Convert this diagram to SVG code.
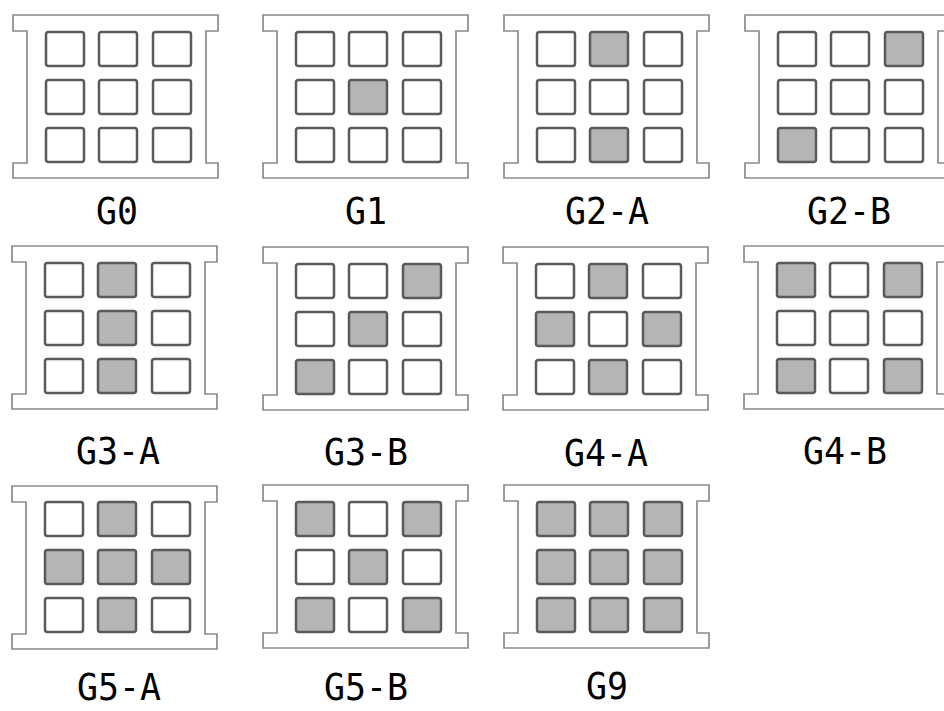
<svg xmlns="http://www.w3.org/2000/svg" xmlns:xlink="http://www.w3.org/1999/xlink" width="944" height="711" viewBox="0 0 944 711">
  <style>
    .frame { fill: #ffffff; stroke: #8a8a8a; stroke-width: 1.7; stroke-linejoin: miter; }
    .e { fill: #ffffff; stroke: #5a5a5a; stroke-width: 2.5; }
    .f { fill: #b5b5b5; stroke: #5a5a5a; stroke-width: 2.5; }
    .lbl { font-family: "DejaVu Sans Mono", "Liberation Mono", monospace; font-size: 38px; fill: #000000; text-anchor: middle; }
  </style>
  <defs>
    <path id="frm" class="frame" d="M0,0 H205 V16 H193 V148 H205 V163 H0 V148 H14 V16 H0 Z"/>
  </defs>
  <rect x="0" y="0" width="944" height="711" fill="#ffffff"/>

  <g id="G0" transform="translate(13,15)">
    <use xlink:href="#frm"/>
    <rect class="e" x="33" y="17" width="38" height="34" rx="2.5"/>
    <rect class="e" x="86" y="17" width="38" height="34" rx="2.5"/>
    <rect class="e" x="140" y="17" width="38" height="34" rx="2.5"/>
    <rect class="e" x="33" y="65" width="38" height="34" rx="2.5"/>
    <rect class="e" x="86" y="65" width="38" height="34" rx="2.5"/>
    <rect class="e" x="140" y="65" width="38" height="34" rx="2.5"/>
    <rect class="e" x="33" y="113" width="38" height="34" rx="2.5"/>
    <rect class="e" x="86" y="113" width="38" height="34" rx="2.5"/>
    <rect class="e" x="140" y="113" width="38" height="34" rx="2.5"/>
    <text class="lbl" x="104" y="209" textLength="42" lengthAdjust="spacingAndGlyphs">G0</text>
  </g>

  <g id="G1" transform="translate(263,15)">
    <use xlink:href="#frm"/>
    <rect class="e" x="33" y="17" width="38" height="34" rx="2.5"/>
    <rect class="e" x="86" y="17" width="38" height="34" rx="2.5"/>
    <rect class="e" x="140" y="17" width="38" height="34" rx="2.5"/>
    <rect class="e" x="33" y="65" width="38" height="34" rx="2.5"/>
    <rect class="f" x="86" y="65" width="38" height="34" rx="2.5"/>
    <rect class="e" x="140" y="65" width="38" height="34" rx="2.5"/>
    <rect class="e" x="33" y="113" width="38" height="34" rx="2.5"/>
    <rect class="e" x="86" y="113" width="38" height="34" rx="2.5"/>
    <rect class="e" x="140" y="113" width="38" height="34" rx="2.5"/>
    <text class="lbl" x="103" y="209" textLength="42" lengthAdjust="spacingAndGlyphs">G1</text>
  </g>

  <g id="G2-A" transform="translate(504,15)">
    <use xlink:href="#frm"/>
    <rect class="e" x="33" y="17" width="38" height="34" rx="2.5"/>
    <rect class="f" x="86" y="17" width="38" height="34" rx="2.5"/>
    <rect class="e" x="140" y="17" width="38" height="34" rx="2.5"/>
    <rect class="e" x="33" y="65" width="38" height="34" rx="2.5"/>
    <rect class="e" x="86" y="65" width="38" height="34" rx="2.5"/>
    <rect class="e" x="140" y="65" width="38" height="34" rx="2.5"/>
    <rect class="e" x="33" y="113" width="38" height="34" rx="2.5"/>
    <rect class="f" x="86" y="113" width="38" height="34" rx="2.5"/>
    <rect class="e" x="140" y="113" width="38" height="34" rx="2.5"/>
    <text class="lbl" x="103" y="209" textLength="84" lengthAdjust="spacingAndGlyphs">G2-A</text>
  </g>

  <g id="G2-B" transform="translate(745,15)">
    <use xlink:href="#frm"/>
    <rect class="e" x="33" y="17" width="38" height="34" rx="2.5"/>
    <rect class="e" x="86" y="17" width="38" height="34" rx="2.5"/>
    <rect class="f" x="140" y="17" width="38" height="34" rx="2.5"/>
    <rect class="e" x="33" y="65" width="38" height="34" rx="2.5"/>
    <rect class="e" x="86" y="65" width="38" height="34" rx="2.5"/>
    <rect class="e" x="140" y="65" width="38" height="34" rx="2.5"/>
    <rect class="f" x="33" y="113" width="38" height="34" rx="2.5"/>
    <rect class="e" x="86" y="113" width="38" height="34" rx="2.5"/>
    <rect class="e" x="140" y="113" width="38" height="34" rx="2.5"/>
    <text class="lbl" x="104" y="209" textLength="84" lengthAdjust="spacingAndGlyphs">G2-B</text>
  </g>

  <g id="G3-A" transform="translate(12,246)">
    <use xlink:href="#frm"/>
    <rect class="e" x="33" y="17" width="38" height="34" rx="2.5"/>
    <rect class="f" x="86" y="17" width="38" height="34" rx="2.5"/>
    <rect class="e" x="140" y="17" width="38" height="34" rx="2.5"/>
    <rect class="e" x="33" y="65" width="38" height="34" rx="2.5"/>
    <rect class="f" x="86" y="65" width="38" height="34" rx="2.5"/>
    <rect class="e" x="140" y="65" width="38" height="34" rx="2.5"/>
    <rect class="e" x="33" y="113" width="38" height="34" rx="2.5"/>
    <rect class="f" x="86" y="113" width="38" height="34" rx="2.5"/>
    <rect class="e" x="140" y="113" width="38" height="34" rx="2.5"/>
    <text class="lbl" x="106" y="218" textLength="84" lengthAdjust="spacingAndGlyphs">G3-A</text>
  </g>

  <g id="G3-B" transform="translate(263,247)">
    <use xlink:href="#frm"/>
    <rect class="e" x="33" y="17" width="38" height="34" rx="2.5"/>
    <rect class="e" x="86" y="17" width="38" height="34" rx="2.5"/>
    <rect class="f" x="140" y="17" width="38" height="34" rx="2.5"/>
    <rect class="e" x="33" y="65" width="38" height="34" rx="2.5"/>
    <rect class="f" x="86" y="65" width="38" height="34" rx="2.5"/>
    <rect class="e" x="140" y="65" width="38" height="34" rx="2.5"/>
    <rect class="f" x="33" y="113" width="38" height="34" rx="2.5"/>
    <rect class="e" x="86" y="113" width="38" height="34" rx="2.5"/>
    <rect class="e" x="140" y="113" width="38" height="34" rx="2.5"/>
    <text class="lbl" x="103" y="218" textLength="84" lengthAdjust="spacingAndGlyphs">G3-B</text>
  </g>

  <g id="G4-A" transform="translate(503,247)">
    <use xlink:href="#frm"/>
    <rect class="e" x="33" y="17" width="38" height="34" rx="2.5"/>
    <rect class="f" x="86" y="17" width="38" height="34" rx="2.5"/>
    <rect class="e" x="140" y="17" width="38" height="34" rx="2.5"/>
    <rect class="f" x="33" y="65" width="38" height="34" rx="2.5"/>
    <rect class="e" x="86" y="65" width="38" height="34" rx="2.5"/>
    <rect class="f" x="140" y="65" width="38" height="34" rx="2.5"/>
    <rect class="e" x="33" y="113" width="38" height="34" rx="2.5"/>
    <rect class="f" x="86" y="113" width="38" height="34" rx="2.5"/>
    <rect class="e" x="140" y="113" width="38" height="34" rx="2.5"/>
    <text class="lbl" x="103" y="219" textLength="84" lengthAdjust="spacingAndGlyphs">G4-A</text>
  </g>

  <g id="G4-B" transform="translate(744,246)">
    <use xlink:href="#frm"/>
    <rect class="f" x="33" y="17" width="38" height="34" rx="2.5"/>
    <rect class="e" x="86" y="17" width="38" height="34" rx="2.5"/>
    <rect class="f" x="140" y="17" width="38" height="34" rx="2.5"/>
    <rect class="e" x="33" y="65" width="38" height="34" rx="2.5"/>
    <rect class="e" x="86" y="65" width="38" height="34" rx="2.5"/>
    <rect class="e" x="140" y="65" width="38" height="34" rx="2.5"/>
    <rect class="f" x="33" y="113" width="38" height="34" rx="2.5"/>
    <rect class="e" x="86" y="113" width="38" height="34" rx="2.5"/>
    <rect class="f" x="140" y="113" width="38" height="34" rx="2.5"/>
    <text class="lbl" x="101" y="218" textLength="84" lengthAdjust="spacingAndGlyphs">G4-B</text>
  </g>

  <g id="G5-A" transform="translate(12,486)">
    <use xlink:href="#frm"/>
    <rect class="e" x="33" y="16" width="38" height="34" rx="2.5"/>
    <rect class="f" x="86" y="16" width="38" height="34" rx="2.5"/>
    <rect class="e" x="140" y="16" width="38" height="34" rx="2.5"/>
    <rect class="f" x="33" y="64" width="38" height="34" rx="2.5"/>
    <rect class="f" x="86" y="64" width="38" height="34" rx="2.5"/>
    <rect class="f" x="140" y="64" width="38" height="34" rx="2.5"/>
    <rect class="e" x="33" y="112" width="38" height="34" rx="2.5"/>
    <rect class="f" x="86" y="112" width="38" height="34" rx="2.5"/>
    <rect class="e" x="140" y="112" width="38" height="34" rx="2.5"/>
    <text class="lbl" x="107" y="214" textLength="84" lengthAdjust="spacingAndGlyphs">G5-A</text>
  </g>

  <g id="G5-B" transform="translate(263,485)">
    <use xlink:href="#frm"/>
    <rect class="f" x="33" y="17" width="38" height="34" rx="2.5"/>
    <rect class="e" x="86" y="17" width="38" height="34" rx="2.5"/>
    <rect class="f" x="140" y="17" width="38" height="34" rx="2.5"/>
    <rect class="e" x="33" y="65" width="38" height="34" rx="2.5"/>
    <rect class="f" x="86" y="65" width="38" height="34" rx="2.5"/>
    <rect class="e" x="140" y="65" width="38" height="34" rx="2.5"/>
    <rect class="f" x="33" y="113" width="38" height="34" rx="2.5"/>
    <rect class="e" x="86" y="113" width="38" height="34" rx="2.5"/>
    <rect class="f" x="140" y="113" width="38" height="34" rx="2.5"/>
    <text class="lbl" x="103" y="215" textLength="84" lengthAdjust="spacingAndGlyphs">G5-B</text>
  </g>

  <g id="G9" transform="translate(504,485)">
    <use xlink:href="#frm"/>
    <rect class="f" x="33" y="17" width="38" height="34" rx="2.5"/>
    <rect class="f" x="86" y="17" width="38" height="34" rx="2.5"/>
    <rect class="f" x="140" y="17" width="38" height="34" rx="2.5"/>
    <rect class="f" x="33" y="65" width="38" height="34" rx="2.5"/>
    <rect class="f" x="86" y="65" width="38" height="34" rx="2.5"/>
    <rect class="f" x="140" y="65" width="38" height="34" rx="2.5"/>
    <rect class="f" x="33" y="113" width="38" height="34" rx="2.5"/>
    <rect class="f" x="86" y="113" width="38" height="34" rx="2.5"/>
    <rect class="f" x="140" y="113" width="38" height="34" rx="2.5"/>
    <text class="lbl" x="103" y="214" textLength="42" lengthAdjust="spacingAndGlyphs">G9</text>
  </g>

  <g id="connectors"/>
</svg>
